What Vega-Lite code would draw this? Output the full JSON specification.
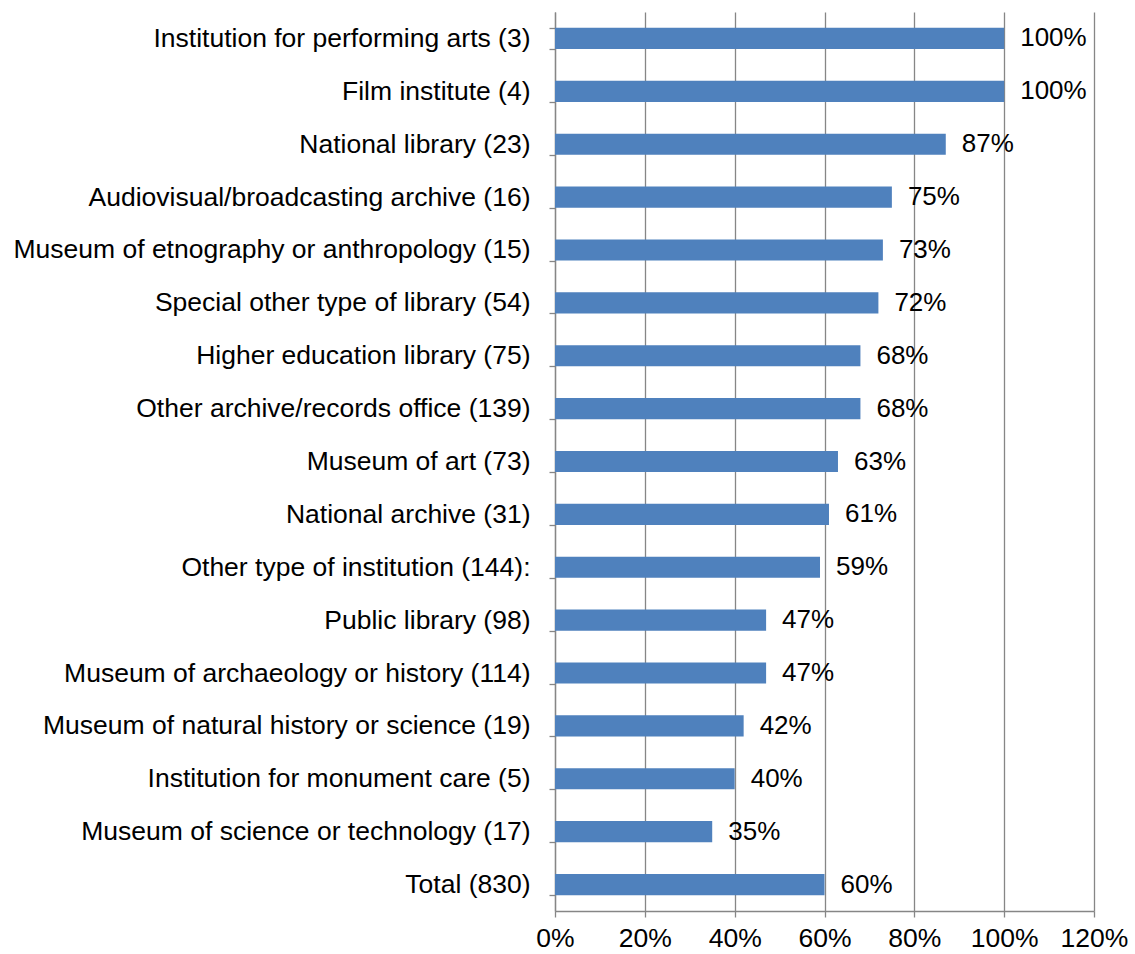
{
  "$schema": "https://vega.github.io/schema/vega-lite/v6.json",
  "autosize": {"type": "none"},
  "padding": {"left": 555, "top": 12, "right": 41, "bottom": 43},
  "width": 539,
  "height": 899,
  "background": "white",
  "config": {
    "view": {"stroke": null},
    "font": "Liberation Sans",
    "axis": {"labelFont": "Liberation Sans", "labelColor": "#000000", "labelFontSize": 26.5, "domainColor": "#868686", "tickColor": "#868686", "gridColor": "#868686", "domainWidth": 1.3, "tickWidth": 1.3, "gridWidth": 1.3, "tickSize": 6}
  },
  "data": {"values": [
    {"category": "Institution for performing arts (3)", "value": 1.00},
    {"category": "Film institute (4)", "value": 1.00},
    {"category": "National library (23)", "value": 0.87},
    {"category": "Audiovisual/broadcasting archive (16)", "value": 0.75},
    {"category": "Museum of etnography or anthropology (15)", "value": 0.73},
    {"category": "Special other type of library (54)", "value": 0.72},
    {"category": "Higher education library (75)", "value": 0.68},
    {"category": "Other archive/records office (139)", "value": 0.68},
    {"category": "Museum of art (73)", "value": 0.63},
    {"category": "National archive (31)", "value": 0.61},
    {"category": "Other type of institution (144):", "value": 0.59},
    {"category": "Public library (98)", "value": 0.47},
    {"category": "Museum of archaeology or history (114)", "value": 0.47},
    {"category": "Museum of natural history or science (19)", "value": 0.42},
    {"category": "Institution for monument care (5)", "value": 0.40},
    {"category": "Museum of science or technology (17)", "value": 0.35},
    {"category": "Total (830)\u2002", "value": 0.60}
  ]},
  "encoding": {
    "y": {"field": "category", "type": "nominal", "sort": null, "title": null,
      "scale": {"paddingInner": 0.6, "paddingOuter": 0.3},
      "axis": {"tickBand": "extent", "labelPadding": 19, "labelLimit": 600, "grid": false}},
    "x": {"field": "value", "type": "quantitative", "title": null,
      "scale": {"domain": [0, 1.2], "nice": false},
      "axis": {"values": [0, 0.2, 0.4, 0.6, 0.8, 1.0, 1.2], "format": ".0%", "labelPadding": 8, "grid": true, "gridDash": [], "labelFlush": false}}
  },
  "layer": [
    {"mark": {"type": "bar", "color": "#4F81BD"}},
    {"mark": {"type": "text", "align": "left", "baseline": "middle", "dx": 16, "dy": 0, "fontSize": 26, "font": "Liberation Sans", "color": "#000000"},
     "encoding": {"text": {"field": "value", "type": "quantitative", "format": ".0%"}}}
  ]
}
